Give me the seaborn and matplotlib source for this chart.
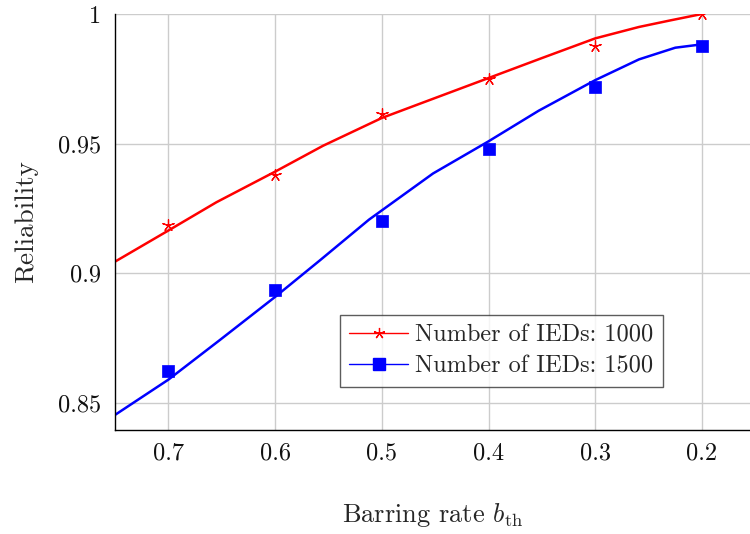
import matplotlib
matplotlib.use("Agg")
import matplotlib.pyplot as plt
from matplotlib.lines import Line2D
from matplotlib.ticker import FuncFormatter
import seaborn as sns
import pandas as pd

# Measured reliability at each barring-rate threshold
b_th = [0.7, 0.6, 0.5, 0.4, 0.3, 0.2]
rel_1000 = [0.9188, 0.9381, 0.9615, 0.9750, 0.9877, 1.0000]
rel_1500 = [0.8623, 0.8935, 0.9200, 0.9480, 0.9719, 0.9877]

# Fitted trend curves
fit_x_1000 = [0.75, 0.70, 0.655, 0.60, 0.555, 0.50, 0.465, 0.40, 0.35, 0.30, 0.259, 0.23, 0.20]
fit_y_1000 = [0.9045, 0.9165, 0.9274, 0.9392, 0.9492, 0.9599, 0.9653, 0.9753, 0.9830, 0.9906, 0.9950, 0.9975, 1.0000]
fit_x_1500 = [0.75, 0.70, 0.652, 0.60, 0.558, 0.512, 0.452, 0.40, 0.353, 0.30, 0.259, 0.225, 0.20]
fit_y_1500 = [0.8454, 0.8590, 0.8742, 0.8909, 0.9050, 0.9207, 0.9385, 0.9509, 0.9627, 0.9745, 0.9825, 0.9870, 0.9883]

labels = ["Number of IEDs: 1000", "Number of IEDs: 1500"]
yticks = [0.85, 0.9, 0.95, 1.0]
xticks = [0.7, 0.6, 0.5, 0.4, 0.3, 0.2]

sns.set_theme(style="white")
plt.rcParams["font.family"] = ["serif"]
plt.rcParams["font.serif"] = ["cmr10", "DejaVu Serif"]
plt.rcParams["mathtext.fontset"] = "cm"
plt.rcParams["axes.formatter.use_mathtext"] = True

fig = plt.figure(figsize=(7.5, 5.34), dpi=100)
ax = fig.add_axes([0.1533, 0.1948, 0.8467, 0.779])

pts = pd.DataFrame({"b": b_th * 2,
                    "r": rel_1000 + rel_1500,
                    "s": [labels[0]] * len(b_th) + [labels[1]] * len(b_th)})
fit1 = pd.DataFrame({"b": fit_x_1000, "r": fit_y_1000})
fit2 = pd.DataFrame({"b": fit_x_1500, "r": fit_y_1500})

sns.lineplot(data=fit1, x="b", y="r", sort=False, color="red", lw=1.8, ax=ax, legend=False)
sns.lineplot(data=fit2, x="b", y="r", sort=False, color="blue", lw=1.8, ax=ax, legend=False)
sns.scatterplot(data=pts[pts.s == labels[0]], x="b", y="r", marker=(5, 2, 0), s=70,
                color="red", linewidth=0.9, ax=ax, legend=False, zorder=3)
sns.scatterplot(data=pts[pts.s == labels[1]], x="b", y="r", marker="s", s=80,
                color="blue", edgecolor="blue", linewidth=0.5, ax=ax, legend=False, zorder=3)

ax.set_xlim(0.75, 0.155)
ax.set_ylim(0.8396, 1.0)
ax.set_xticks(xticks)
ax.set_yticks(yticks)
ax.xaxis.set_major_formatter(FuncFormatter(lambda v, p: f"{v:g}"))
ax.yaxis.set_major_formatter(FuncFormatter(lambda v, p: f"{v:g}"))
ax.tick_params(length=0, labelsize=17.5, colors="#111111")
ax.tick_params(axis="x", pad=9)
ax.tick_params(axis="y", pad=10)
ax.grid(True, color="#cccccc", lw=1.0)
ax.set_axisbelow(True)
for side in ("top", "right"):
    ax.spines[side].set_visible(False)
for side in ("left", "bottom"):
    ax.spines[side].set_color("black")
    ax.spines[side].set_linewidth(1.0)

ax.set_xlabel(r"Barring rate $b_{\mathrm{th}}$", fontsize=19, labelpad=26)
ax.set_ylabel("Reliability", fontsize=19.5, labelpad=14)

handles = [
    Line2D([], [], color="red", lw=1.0, marker=(5, 2, 0), markersize=8, markeredgewidth=0.9),
    Line2D([], [], color="blue", lw=1.0, marker="s", markersize=8),
]
leg = ax.legend(handles, labels, loc="lower right", bbox_to_anchor=(0.863, 0.103),
                borderaxespad=0, fontsize=17.5, frameon=True, fancybox=False,
                handlelength=2.4, handletextpad=0.3, labelspacing=0.35, borderpad=0.4)
leg.get_frame().set_edgecolor("#333333")
leg.get_frame().set_linewidth(1.0)

fig.savefig("out.png", dpi=100)
